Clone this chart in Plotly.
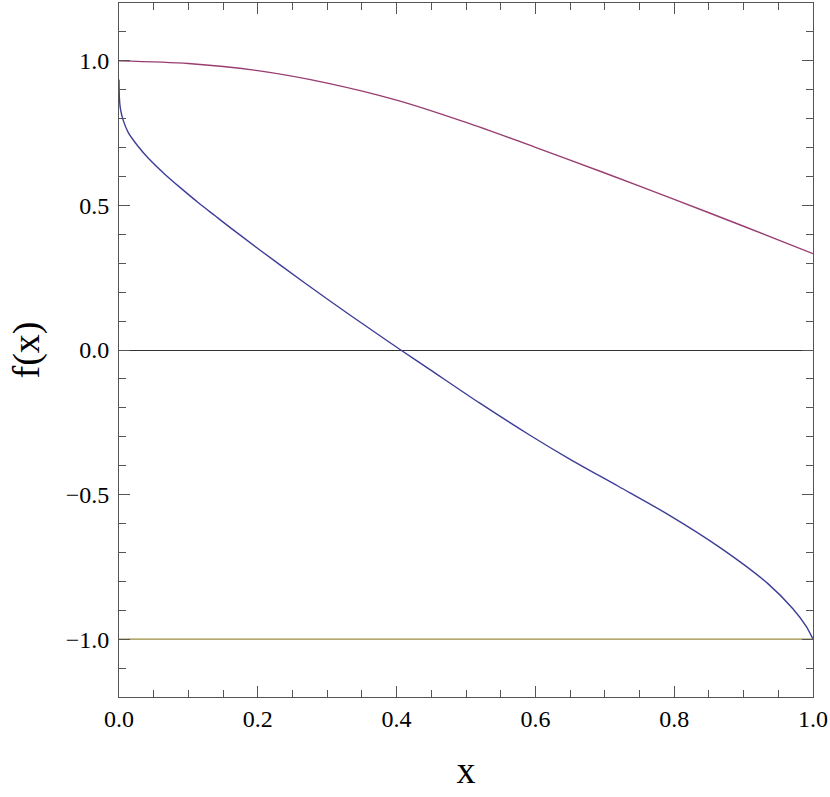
import plotly.graph_objects as go

# valores
x_azul = [0.0, 0.0005, 0.002, 0.006, 0.0134, 0.028, 0.042, 0.066, 0.09, 0.114,
          0.138, 0.167, 0.231, 0.303, 0.375, 0.406, 0.447, 0.52, 0.591, 0.65,
          0.72, 0.792, 0.864, 0.935, 0.971, 0.99, 1.0]
y_azul = [0.935, 0.875, 0.835, 0.795, 0.752, 0.703, 0.664, 0.608, 0.558, 0.51,
          0.465, 0.411, 0.296, 0.171, 0.051, 0.0, -0.066, -0.184, -0.293, -0.378,
          -0.472, -0.570, -0.680, -0.808, -0.895, -0.955, -1.0]

x_roxo = [0.0, 0.1, 0.2, 0.3, 0.4, 0.5, 0.6, 0.7, 0.8, 0.9, 1.0]
y_roxo = [1.0, 0.991, 0.966, 0.923, 0.864, 0.787, 0.701, 0.612, 0.521, 0.428, 0.333]

x_amarelo = [0.0, 1.0]
y_amarelo = [-1.0, -1.0]

x_ticks = [0.0, 0.2, 0.4, 0.6, 0.8, 1.0]
y_ticks = [-1.0, -0.5, 0.0, 0.5, 1.0]

fonte = "Liberation Serif, Times New Roman, serif"
cor_frame = "#555555"

fig = go.Figure()

fig.add_trace(go.Scatter(x=x_azul, y=y_azul, mode='lines',
                         line=dict(color='rgb(61,61,153)', width=1.4, shape='spline', smoothing=0.8)))
fig.add_trace(go.Scatter(x=x_roxo, y=y_roxo, mode='lines',
                         line=dict(color='rgb(153,61,113)', width=1.4, shape='spline', smoothing=0.8)))
fig.add_trace(go.Scatter(x=x_amarelo, y=y_amarelo, mode='lines',
                         line=dict(color='rgb(153,139,61)', width=1.4)))

fig.update_layout(
    width=830, height=797,
    showlegend=False,
    plot_bgcolor='white',
    paper_bgcolor='white',
    font=dict(family=fonte, color='black'),
    margin=dict(l=119, r=15, t=2, b=100),
    xaxis=dict(
        range=[0, 1],
        tickvals=x_ticks,
        ticktext=[f'{v:.1f}' for v in x_ticks],
        ticks='inside', ticklen=11, tickcolor=cor_frame, tickwidth=1,
        minor=dict(dtick=0.05, tick0=0, ticks='inside', ticklen=7, tickcolor=cor_frame, showgrid=False),
        showline=True, linecolor=cor_frame, linewidth=1, mirror='ticks',
        showgrid=False, zeroline=False,
        tickfont=dict(size=24, family=fonte),
        title=dict(text='x', font=dict(size=38, family=fonte), standoff=25),
    ),
    yaxis=dict(
        range=[-1.2, 1.2],
        tickvals=y_ticks,
        ticktext=[f'{v:.1f}'.replace('-', '\u2212') for v in y_ticks],
        ticks='inside', ticklen=11, tickcolor=cor_frame, tickwidth=1,
        minor=dict(dtick=0.1, tick0=0, ticks='inside', ticklen=7, tickcolor=cor_frame, showgrid=False),
        showline=True, linecolor=cor_frame, linewidth=1, mirror='ticks',
        showgrid=False,
        zeroline=True, zerolinecolor='#333333', zerolinewidth=1,
        ticklabelstandoff=4,
        tickfont=dict(size=24, family=fonte),
        title=dict(text='f(x)', font=dict(size=38, family=fonte), standoff=14),
    ),
)

# tirar a margem padrão do body para a figura ficar encostada no canto
fig.write_html("out.html", config={'displayModeBar': False},
               post_script="document.body.style.margin='0';")
